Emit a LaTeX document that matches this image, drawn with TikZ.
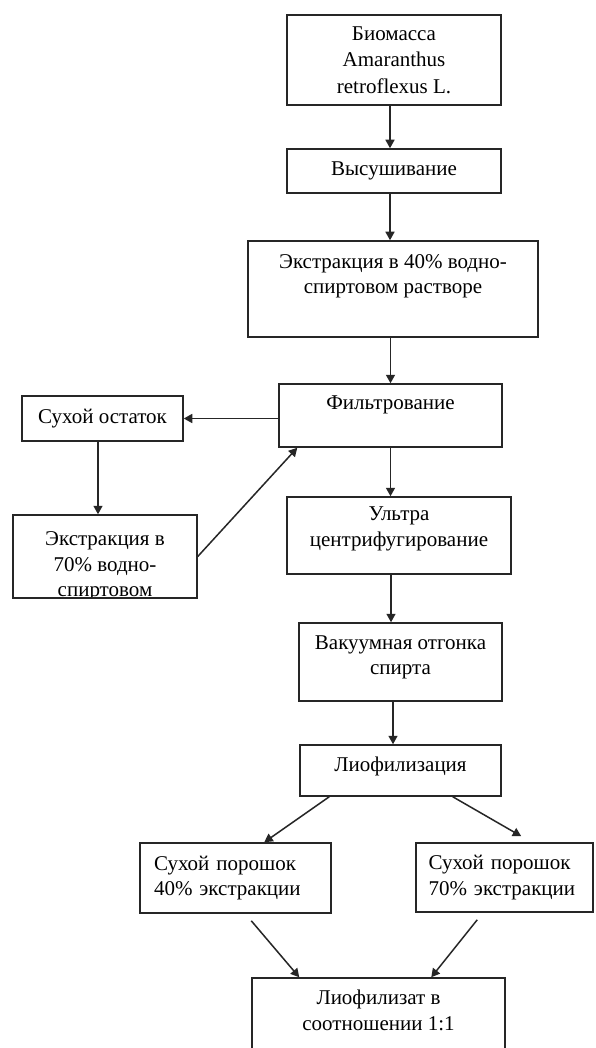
\documentclass[tikz,border=0pt]{standalone}
\usepackage{fontspec}
\setmainfont{Liberation Serif}
\usetikzlibrary{arrows.meta,calc}
\begin{document}
\begin{tikzpicture}[x=1pt,y=-1pt,
  box/.style={draw=black!85, line width=1.5pt, rectangle, inner sep=0pt, align=center,
    font=\fontsize{21}{25.5}\selectfont, fill=white},
  arr/.style={draw=black!85, line width=1.5pt, -{Triangle[length=8.5pt,width=9pt]}}]
\clip (0,0) rectangle (595,1048);
\fill[white] (0,0) rectangle (595,1048);
% nodes
\node[box, minimum width=214pt, minimum height=90pt, font=\fontsize{21}{26.5}\selectfont] (b1) at (394,60)
  {Биомасса\\Amaranthus\\retroflexus L.};
\node[box, minimum width=214pt, minimum height=44pt] (b2) at (394,171) {Высушивание};
\node[box, minimum width=290pt, minimum height=96pt] (b3) at (393,289)
  {Экстракция в 40\% водно-\\спиртовом растворе\\[4pt]\mbox{}};
\node[box, minimum width=223pt, minimum height=63pt] (b4) at (390.5,415.5)
  {Фильтрование\\\mbox{}};
\node[box, minimum width=161pt, minimum height=45pt] (dry) at (102.5,418.5) {Сухой остаток};
\node[box, minimum width=184pt, minimum height=83pt] (e70) at (105,556.5) {};
\begin{scope}
  \clip ([yshift=-1pt]e70.north west) rectangle ([yshift=2.5pt]e70.south east);
  \node[box, draw=none, fill=none, anchor=north] (e70t) at (105,531)
    {Экстракция в\\70\% водно-\\спиртовом};
\end{scope}
\node[box, minimum width=224pt, minimum height=77pt, font=\fontsize{21}{26}\selectfont] (ultra) at (399,535.5)
  {Ультра\\центрифугирование\\[-8pt]\mbox{}};
\node[box, minimum width=203pt, minimum height=78pt] (vac) at (400.5,662)
  {Вакуумная отгонка\\спирта\\[-12pt]\mbox{}};
\node[box, minimum width=201pt, minimum height=51pt] (lio) at (400.5,770.5)
  {Лиофилизация\\[-12pt]\mbox{}};
\node[box, minimum width=191pt, minimum height=70pt, text width=163pt, align=left] (s40) at (235.5,878)
  {Сухой порошок\\40\% экстракции};
\node[box, minimum width=177pt, minimum height=69pt, text width=152pt, align=left] (s70) at (504.5,877.5)
  {Сухой порошок\\70\% экстракции};
\node[box, minimum width=253pt, minimum height=90pt] (fin) at (378.5,1023)
  {Лиофилизат в\\соотношении 1:1\\\mbox{}};
% connectors
\draw[arr] ([xshift=-4pt]b1.south) -- ([xshift=-4pt]b1.south |- b2.north);
\draw[arr] ([xshift=-4pt]b2.south) -- ([xshift=-4pt]b2.south |- b3.north);
\draw[arr] (b3.south -| b4.north) -- (b4.north);
\draw[arr] (b4.west |- dry.east) -- (dry.east);
\draw[arr] ([xshift=-4.5pt]dry.south) -- ([xshift=-4.5pt]dry.south |- e70.north);
\draw[arr] (e70.east) -- ([xshift=19pt]b4.south west);
\draw[arr] (b4.south) -- (b4.south |- ultra.north);
\draw[arr] ([xshift=-8pt]ultra.south) -- ([xshift=-8pt]ultra.south |- vac.north);
\draw[arr] ([xshift=-7.5pt]vac.south) -- ([xshift=-7.5pt]vac.south |- lio.north);
\draw[arr] ([xshift=30pt]lio.south west) -- ([xshift=125pt]s40.north west);
\draw[arr] ([xshift=-49pt]lio.south east) -- ([xshift=106pt,yshift=6pt]s70.north west);
\draw[arr] ([xshift=112pt,yshift=-7pt]s40.south west) -- ([xshift=48pt]fin.north west);
\draw[arr] ([xshift=62pt,yshift=-7pt]s70.south west) -- ([xshift=180pt]fin.north west);
\end{tikzpicture}
\end{document}
